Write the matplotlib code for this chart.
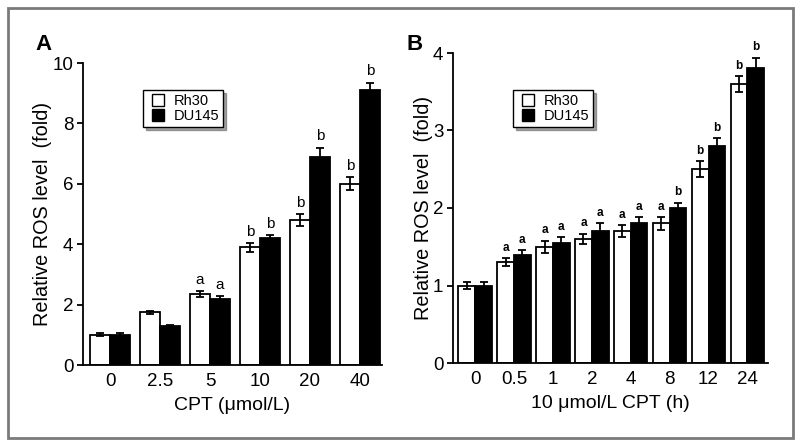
import matplotlib
matplotlib.use("Agg")
import matplotlib.pyplot as plt
import numpy as np
from matplotlib.patches import Rectangle
from matplotlib.lines import Line2D

plt.rcParams['font.family'] = ['Liberation Sans', 'DejaVu Sans']

# Panel A data
catA = ["0", "2.5", "5", "10", "20", "40"]
rh30_A = [1.0, 1.75, 2.35, 3.9, 4.8, 6.0]
rh30_A_err = [0.05, 0.05, 0.1, 0.15, 0.2, 0.22]
du145_A = [1.0, 1.3, 2.2, 4.2, 6.9, 9.1]
du145_A_err = [0.05, 0.03, 0.07, 0.1, 0.3, 0.25]
sigA_rh30 = ["", "", "a", "b", "b", "b"]
sigA_du145 = ["", "", "a", "b", "b", "b"]

# Panel B data
catB = ["0", "0.5", "1", "2", "4", "8", "12", "24"]
rh30_B = [1.0, 1.3, 1.5, 1.6, 1.7, 1.8, 2.5, 3.6]
rh30_B_err = [0.05, 0.05, 0.08, 0.07, 0.08, 0.08, 0.1, 0.1]
du145_B = [1.0, 1.4, 1.55, 1.7, 1.8, 2.0, 2.8, 3.8]
du145_B_err = [0.04, 0.06, 0.08, 0.1, 0.08, 0.07, 0.1, 0.14]
sigB_rh30 = ["", "a", "a", "a", "a", "a", "b", "b"]
sigB_du145 = ["", "a", "a", "a", "a", "b", "b", "b"]

fig = plt.figure(figsize=(8, 4.44), dpi=100)

# outer gray frame
fig.patches.append(Rectangle((8/800, 6/444), 785/800, 430/444, transform=fig.transFigure,
                             fill=False, edgecolor="#7a7a7a", linewidth=2))

def panel(ax, cats, v1, e1, v2, e2, s1, s2, width, ylim, yticks, xlabel,
          sigsize, sigbold, xlim, legpos):
    x = np.arange(len(cats))
    ax.bar(x - width/2, v1, width, color="white", edgecolor="black", linewidth=1.3, zorder=2)
    ax.bar(x + width/2, v2, width, color="black", edgecolor="black", linewidth=1.3, zorder=2)
    ax.errorbar(x - width/2, v1, yerr=e1, fmt="none", ecolor="black", elinewidth=1.3,
                capsize=3, capthick=1.3, zorder=3)
    ax.errorbar(x + width/2, v2, yerr=e2, fmt="none", ecolor="black", elinewidth=1.3,
                capsize=3, capthick=1.3, zorder=3)
    for xs, vals, errs, sigs in ((x - width/2, v1, e1, s1), (x + width/2, v2, e2, s2)):
        for xi, v, e, s in zip(xs, vals, errs, sigs):
            if s:
                ax.annotate(s, (xi, v + e), xytext=(0, 3), textcoords="offset points",
                            ha="center", va="bottom", fontsize=sigsize,
                            fontweight="bold" if sigbold else "normal")
    ax.set_xlim(*xlim)
    ax.set_ylim(*ylim)
    ax.set_yticks(yticks)
    ax.set_xticks(x)
    ax.set_xticklabels(cats)
    ax.tick_params(axis="x", length=0, labelsize=13.5, pad=6)
    ax.tick_params(axis="y", length=4, width=1.3, labelsize=13.5, pad=3)
    for sp in ["top", "right"]:
        ax.spines[sp].set_visible(False)
    for sp in ["left", "bottom"]:
        ax.spines[sp].set_linewidth(1.3)
    ax.set_ylabel("Relative ROS level  (fold)", fontsize=14.3, labelpad=0)
    ax.set_xlabel(xlabel, fontsize=14, labelpad=5)
    handles = [Line2D([], [], marker="s", markersize=8, markerfacecolor="white",
                      markeredgecolor="black", markeredgewidth=1, linestyle="None"),
               Line2D([], [], marker="s", markersize=8, markerfacecolor="black",
                      markeredgecolor="black", markeredgewidth=1, linestyle="None")]
    leg = ax.legend(handles, ["Rh30", "DU145"], loc="upper left", bbox_to_anchor=legpos,
                    fontsize=10.5, frameon=True, fancybox=False, shadow=True,
                    handlelength=1.6, handletextpad=0.3,
                    borderpad=0.25, labelspacing=0.1, borderaxespad=0)
    leg.get_frame().set_edgecolor("black")
    leg.get_frame().set_linewidth(1)

axA = fig.add_axes([83/800, 1 - 365/444, 299/800, 302/444])
panel(axA, catA, rh30_A, rh30_A_err, du145_A, du145_A_err, sigA_rh30, sigA_du145,
      0.4, (0, 10), [0, 2, 4, 6, 8, 10], "CPT (\u03bcmol/L)", 11, False,
      (-0.54, 5.44), (0.2, 0.91))

axB = fig.add_axes([453/800, 1 - 363/444, 315/800, 310/444])
panel(axB, catB, rh30_B, rh30_B_err, du145_B, du145_B_err, sigB_rh30, sigB_du145,
      0.43, (0, 4), [0, 1, 2, 3, 4], "10 \u03bcmol/L CPT (h)", 8.5, True,
      (-0.57, 7.53), (0.19, 0.88))

fig.text(43/800, 1 - 45/444, "A", fontsize=16, fontweight="bold", ha="center", va="center")
fig.text(415/800, 1 - 45/444, "B", fontsize=16, fontweight="bold", ha="center", va="center")

fig.savefig("out.png", dpi=100)
